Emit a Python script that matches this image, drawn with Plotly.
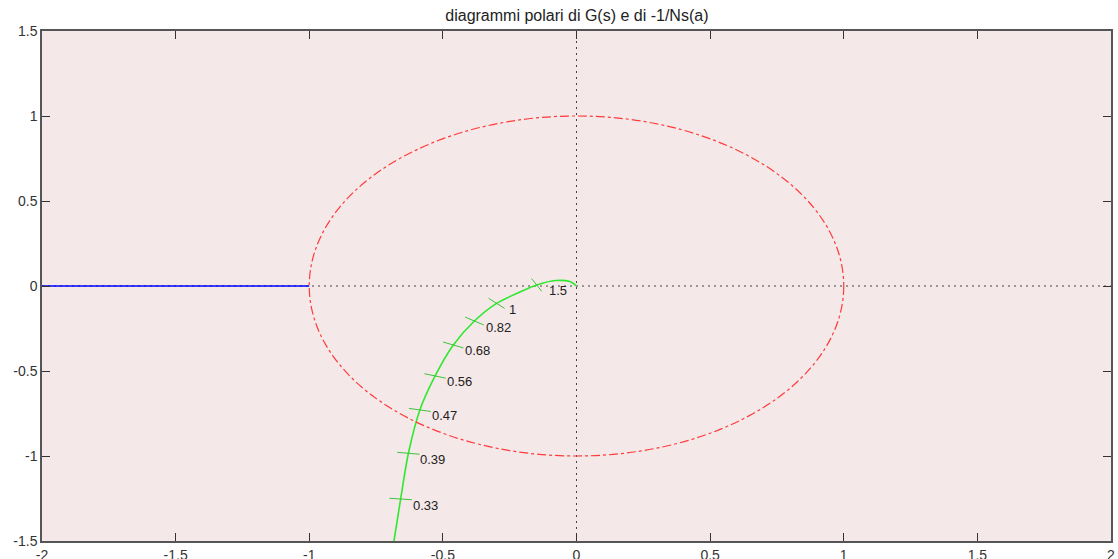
import numpy as np
import plotly.graph_objects as go

# ---- data ----
# polar plot of G(jw): points along the curve (real, imag)
curve_re = [-0.683, -0.658, -0.629, -0.586, -0.529, -0.461, -0.382, -0.299, -0.215, -0.149, -0.077, -0.025, 0.0]
curve_im = [-1.50, -1.253, -0.984, -0.729, -0.529, -0.347, -0.206, -0.102, -0.038, 0.006, 0.032, 0.026, 0.0]
# frequency marks (index into the curve arrays) and their labels
mark_idx = [1, 2, 3, 4, 5, 6, 7, 9]
mark_labels = ["0.33", "0.39", "0.47", "0.56", "0.68", "0.82", "1", "1.5"]

# -1/N(a) locus (real axis segment)
locus_re = [-2.0, -1.0]
locus_im = [0.0, 0.0]

# unit circle bounds
circle_r = 1.0

x_ticks = [-2, -1.5, -1, -0.5, 0, 0.5, 1, 1.5, 2]
y_ticks = [-1.5, -1, -0.5, 0, 0.5, 1, 1.5]
x_range = [-2, 2]
y_range = [-1.5, 1.5]

title = "diagrammi polari di G(s) e di -1/Ns(a)"

FONT = "Arial, Liberation Sans, sans-serif"

# ---- figure ----
fig = go.Figure()

dot_style = dict(color="#444444", width=1, dash="2px,4px")
fig.add_trace(go.Scatter(x=x_range, y=[0, 0], mode="lines", line=dot_style, hoverinfo="skip"))
fig.add_trace(go.Scatter(x=[0, 0], y=y_range, mode="lines", line=dot_style, hoverinfo="skip"))

fig.add_trace(go.Scatter(x=locus_re, y=locus_im, mode="lines",
                         line=dict(color="#0000ff", width=1.3)))

fig.add_trace(go.Scatter(x=curve_re, y=curve_im, mode="lines",
                         line=dict(color="#2fe82f", width=1.6, shape="spline", smoothing=0.8)))

fig.add_shape(type="circle", xref="x", yref="y",
              x0=-circle_r, y0=-circle_r, x1=circle_r, y1=circle_r,
              line=dict(color="#ff3b3b", width=1.2, dash="dashdot"), layer="above")

# tick marks perpendicular to curve (in data units)
cx = np.array(curve_re)
cy = np.array(curve_im)
gx = np.gradient(cx)
gy = np.gradient(cy)
half = 0.042
for i, lab in zip(mark_idx, mark_labels):
    tx, ty = gx[i], gy[i]
    n = np.hypot(tx, ty)
    px, py = ty / n, -tx / n
    fig.add_shape(type="line", xref="x", yref="y",
                  x0=cx[i] - half * px, y0=cy[i] - half * py,
                  x1=cx[i] + half * px, y1=cy[i] + half * py,
                  line=dict(color="#3cc43c", width=1), layer="above")
    fig.add_annotation(x=cx[i], y=cy[i], text=lab, showarrow=False,
                       xanchor="left", yanchor="middle", xshift=10, yshift=-6,
                       font=dict(family=FONT, size=13, color="#222222"))

axis_common = dict(showgrid=False, zeroline=False, ticks="inside", ticklen=8,
                   tickcolor="#333333", tickwidth=1.2, showline=True, linecolor="#555555",
                   linewidth=1.5, mirror="ticks", automargin=False,
                   tickfont=dict(family=FONT, size=14, color="#333333"))

fig.update_xaxes(range=x_range, tickvals=x_ticks, ticktext=[f"{v:g}" for v in x_ticks], **axis_common)
fig.update_yaxes(range=y_range, tickvals=y_ticks, ticktext=[f"{v:g}" for v in y_ticks], **axis_common)

fig.update_layout(
    width=1118, height=559,
    margin=dict(l=42, r=7, t=31, b=18),
    paper_bgcolor="white",
    plot_bgcolor="#f5e8e8",
    showlegend=False,
    title=dict(text=title, x=0.516, xanchor="center", y=1 - 15 / 559, yanchor="middle",
               font=dict(family=FONT, size=16, color="#222222")),
)

fig.write_html("out.html")
